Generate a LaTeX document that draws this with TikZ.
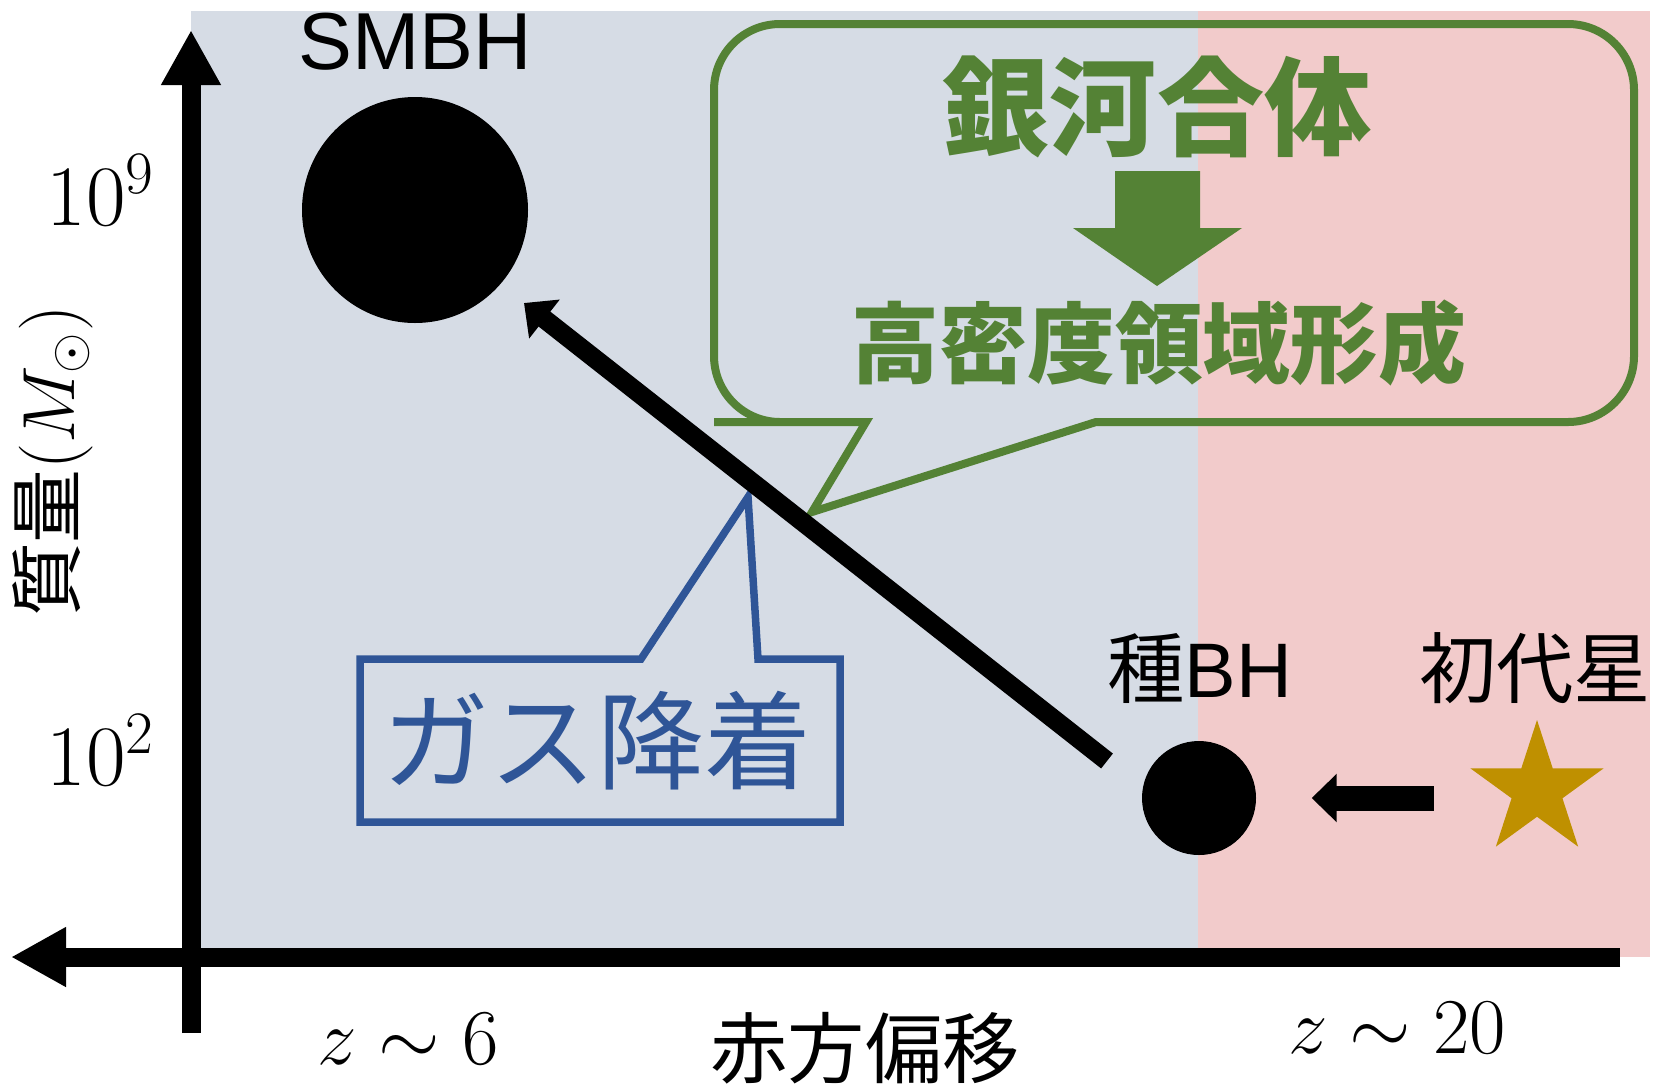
\RequirePackage{fix-cm}
\documentclass[tikz,border=0pt]{standalone}
\usepackage{fontspec}
\setmainfont{Liberation Sans}
\newfontfamily\jp{Noto Sans CJK JP}
\usetikzlibrary{arrows.meta,shapes.geometric}
\definecolor{bgblue}{HTML}{D6DCE5}
\definecolor{bgpink}{HTML}{F2CBCB}
\definecolor{callgreen}{HTML}{548235}
\definecolor{callblue}{HTML}{2F5597}
\definecolor{stargold}{HTML}{BF9000}

\begin{document}
\begin{tikzpicture}[x=0.1mm,y=-0.1mm,
    lbl/.style={inner sep=0, font=\fontsize{22}{26}\selectfont},
    num/.style={inner sep=0, font=\fontsize{24.5}{28}\selectfont},
    axis/.style={line width=1.9mm, -{Triangle[length=5.5mm,width=5.6mm]}},
    blob/.style={circle, fill=black, inner sep=0}]
        \useasboundingbox (0,0) rectangle (1656,1084);
        % draw the two redshift regions
        \fill[bgblue] (191,11) rectangle (1198,950);
        \fill[bgpink] (1198,11) rectangle (1650,957);
        % draw the axis
        \draw[axis] (1620,957) -- (11,957);
        \draw[axis] (191,1033) -- (191,30);
        \node[num, anchor=base east] (tick9) at (156,225) {$10^9$};
        \node[num, anchor=base east] (tick2) at (156,785) {$10^2$};
        \node[lbl, rotate=90, font=\fontsize{21}{25}\selectfont] (ylbl) at (53,461) {{\jp 質量}$(M_\odot)$};
        \node[num, anchor=base, font=\fontsize{22.5}{27}\selectfont] (zlow) at (408,1064) {$z\sim6$};
        \node[num, anchor=base, font=\fontsize{22.5}{27}\selectfont] (zhigh) at (1397,1053) {$z\sim20$};
        \node[lbl] (xlbl) at (865,1048) {\jp 赤方偏移};
        % draw the black holes and the star
        \node[blob, minimum size=22.6mm] (smbh) at (415,210) {};
        \node[lbl, font=\fontsize{23}{27}\selectfont] (smbhlbl) at (415,42) {SMBH};
        \node[blob, minimum size=11.4mm] (seed) at (1199,798) {};
        \node[lbl] (seedlbl) at (1200,668) {{\jp 種}BH};
        \node[star, star points=5, star point ratio=2.618, fill=stargold, minimum size=14mm, inner sep=0] (star) at (1537,790) {};
        \node[lbl] (poplbl) at (1535,668) {\jp 初代星};
        \draw[line width=2.5mm, -{Triangle[length=2.5mm,width=4.7mm]}] ([xshift=17.7mm]seed.east) -- ([xshift=5.5mm]seed.east);
        % draw the callouts
        \draw[callgreen, line width=0.8mm] (866,422) -- (812,512) -- (1096,422) -- (1400,422) [rounded corners=6.6mm] -- (1634,422) -- (1634,24) -- (714,24) -- (714,422) -- (780,422) [sharp corners] -- cycle;
        \node[font=\jp\bfseries\fontsize{30.5}{34}\selectfont, text=callgreen, inner sep=0] (merger) at (1157,107) {銀河合体};
        \fill[callgreen] (1115,171) -- (1200,171) -- (1200,228) -- (1242,228) -- (1157,286) -- (1073,228) -- (1115,228) -- cycle;
        \node[font=\jp\bfseries\fontsize{25}{29}\selectfont, text=callgreen, inner sep=0] (dense) at (1159,343) {高密度領域形成};
        \draw[callblue, line width=0.75mm] (641,659) -- (748,497) -- (758,659) -- (840,659) -- (840,822) -- (360,822) -- (360,659) -- cycle;
        \node[font=\jp\fontsize{30.5}{34}\selectfont, text=callblue, inner sep=0] (gas) at (597,741) {ガス降着};
        % draw the growth path
        \coordinate (growstart) at (1107,761);
        \coordinate (growend) at (524,303);
        \draw[line width=1.9mm, -{Triangle[length=2.6mm,width=4.8mm]}] (growstart) -- (growend);
    \end{tikzpicture}
\end{document}
